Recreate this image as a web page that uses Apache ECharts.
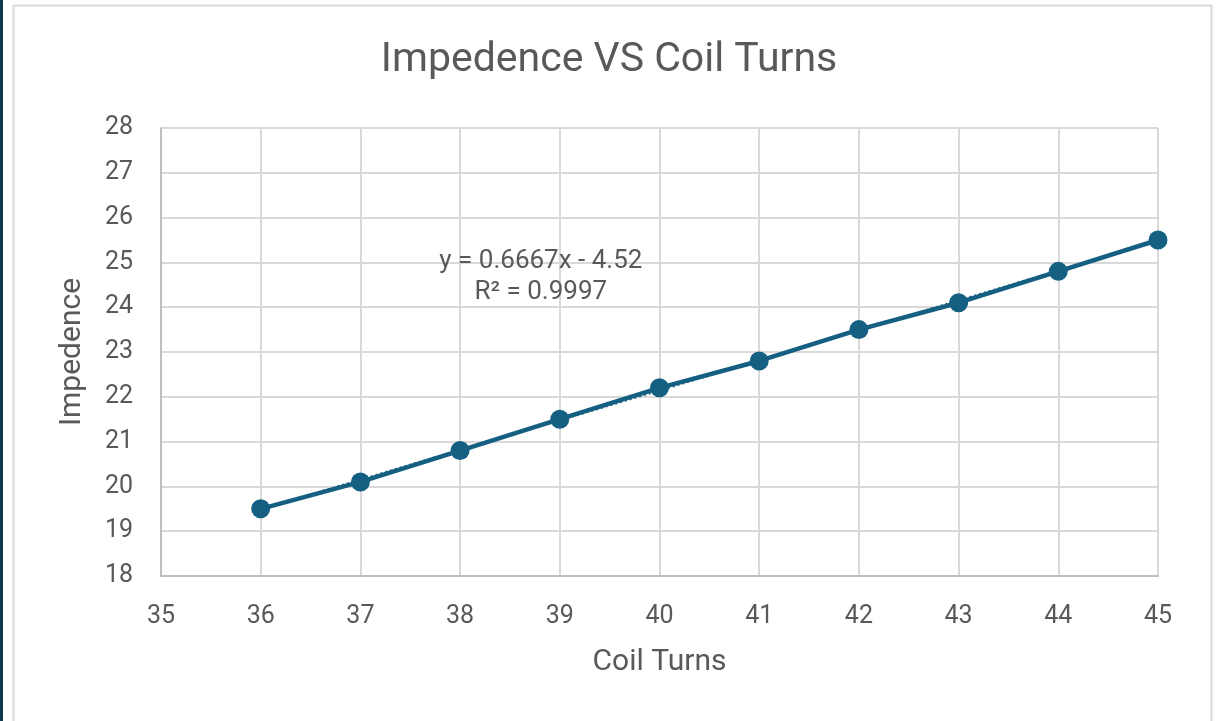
<!DOCTYPE html>
<html>
<head>
<meta charset="utf-8">
<script src="https://cdn.jsdelivr.net/npm/echarts@6/dist/echarts.min.js"></script>
<style>
html,body{margin:0;padding:0;background:#fff;}
#c{width:1218px;height:721px;}
</style>
</head>
<body>
<div id="c"></div>
<script>
const coilTurns = [36, 37, 38, 39, 40, 41, 42, 43, 44, 45];
const impedance = [19.5, 20.1, 20.8, 21.5, 22.2, 22.8, 23.5, 24.1, 24.8, 25.5];
const trendX = [36, 45];
const trendY = [19.48, 25.48];
const titleText = 'Impedence VS Coil Turns';
const equationText = 'y = 0.6667x - 4.52';
const r2Text = 'R² = 0.9997';
const xName = 'Coil Turns';
const yName = 'Impedence';

const FONT = 'Roboto';
const chart = echarts.init(document.getElementById('c'));
const mainData = coilTurns.map((x, i) => [x, impedance[i]]);
const trendData = trendX.map((x, i) => [x, trendY[i]]);

const frame = [
  { type: 'rect', left: 0, top: 0, shape: { width: 3, height: 721 }, style: { fill: '#0d3b50' } },
  { type: 'rect', left: 11, top: 3, shape: { width: 1198, height: 730 }, style: { fill: 'none', stroke: '#d9d9d9', lineWidth: 2 } }
];

chart.setOption({
  backgroundColor: '#ffffff',
  animation: false,
  graphic: frame,
  title: {
    text: titleText, left: 'center', top: 35,
    textStyle: { fontFamily: FONT, fontSize: 41, fontWeight: 'normal', color: '#595959' }
  },
  grid: { left: 161, right: 60, top: 128, bottom: 145, containLabel: false },
  xAxis: {
    type: 'value', min: 35, max: 45, interval: 1,
    name: xName, nameLocation: 'middle', nameGap: 71,
    nameTextStyle: { fontFamily: FONT, fontSize: 30, color: '#595959' },
    axisLine: { show: true, lineStyle: { color: '#bfbfbf', width: 2 } },
    axisTick: { show: false },
    axisLabel: { fontFamily: FONT, fontSize: 25, color: '#595959', margin: 28 },
    splitLine: { show: true, lineStyle: { color: '#d9d9d9', width: 2 } }
  },
  yAxis: {
    type: 'value', min: 18, max: 28, interval: 1,
    name: yName, nameLocation: 'middle', nameGap: 74,
    nameTextStyle: { fontFamily: FONT, fontSize: 30, color: '#595959' },
    axisLine: { show: true, lineStyle: { color: '#bfbfbf', width: 2 } },
    axisTick: { show: false },
    axisLabel: { fontFamily: FONT, fontSize: 25, color: '#595959', margin: 28 },
    splitLine: { show: true, lineStyle: { color: '#d9d9d9', width: 2 } }
  },
  series: [
    {
      type: 'line', data: mainData, symbol: 'circle', symbolSize: 19,
      lineStyle: { color: '#156082', width: 4.5 },
      itemStyle: { color: '#156082' },
      z: 3
    },
    {
      type: 'line', data: trendData, symbol: 'none',
      lineStyle: { color: '#156082', width: 2.5, type: [2, 3] },
      z: 2
    }
  ]
});

const p = chart.convertToPixel({ xAxisIndex: 0, yAxisIndex: 0 }, [38.81, 24.67]);
chart.setOption({
  graphic: frame.concat([
    { type: 'text', x: p[0], y: p[1], style: { text: equationText + '\n' + r2Text, fill: '#595959', font: '26px ' + FONT, align: 'center', verticalAlign: 'middle', lineHeight: 31 }, z: 10 }
  ])
});
</script>
</body>
</html>
